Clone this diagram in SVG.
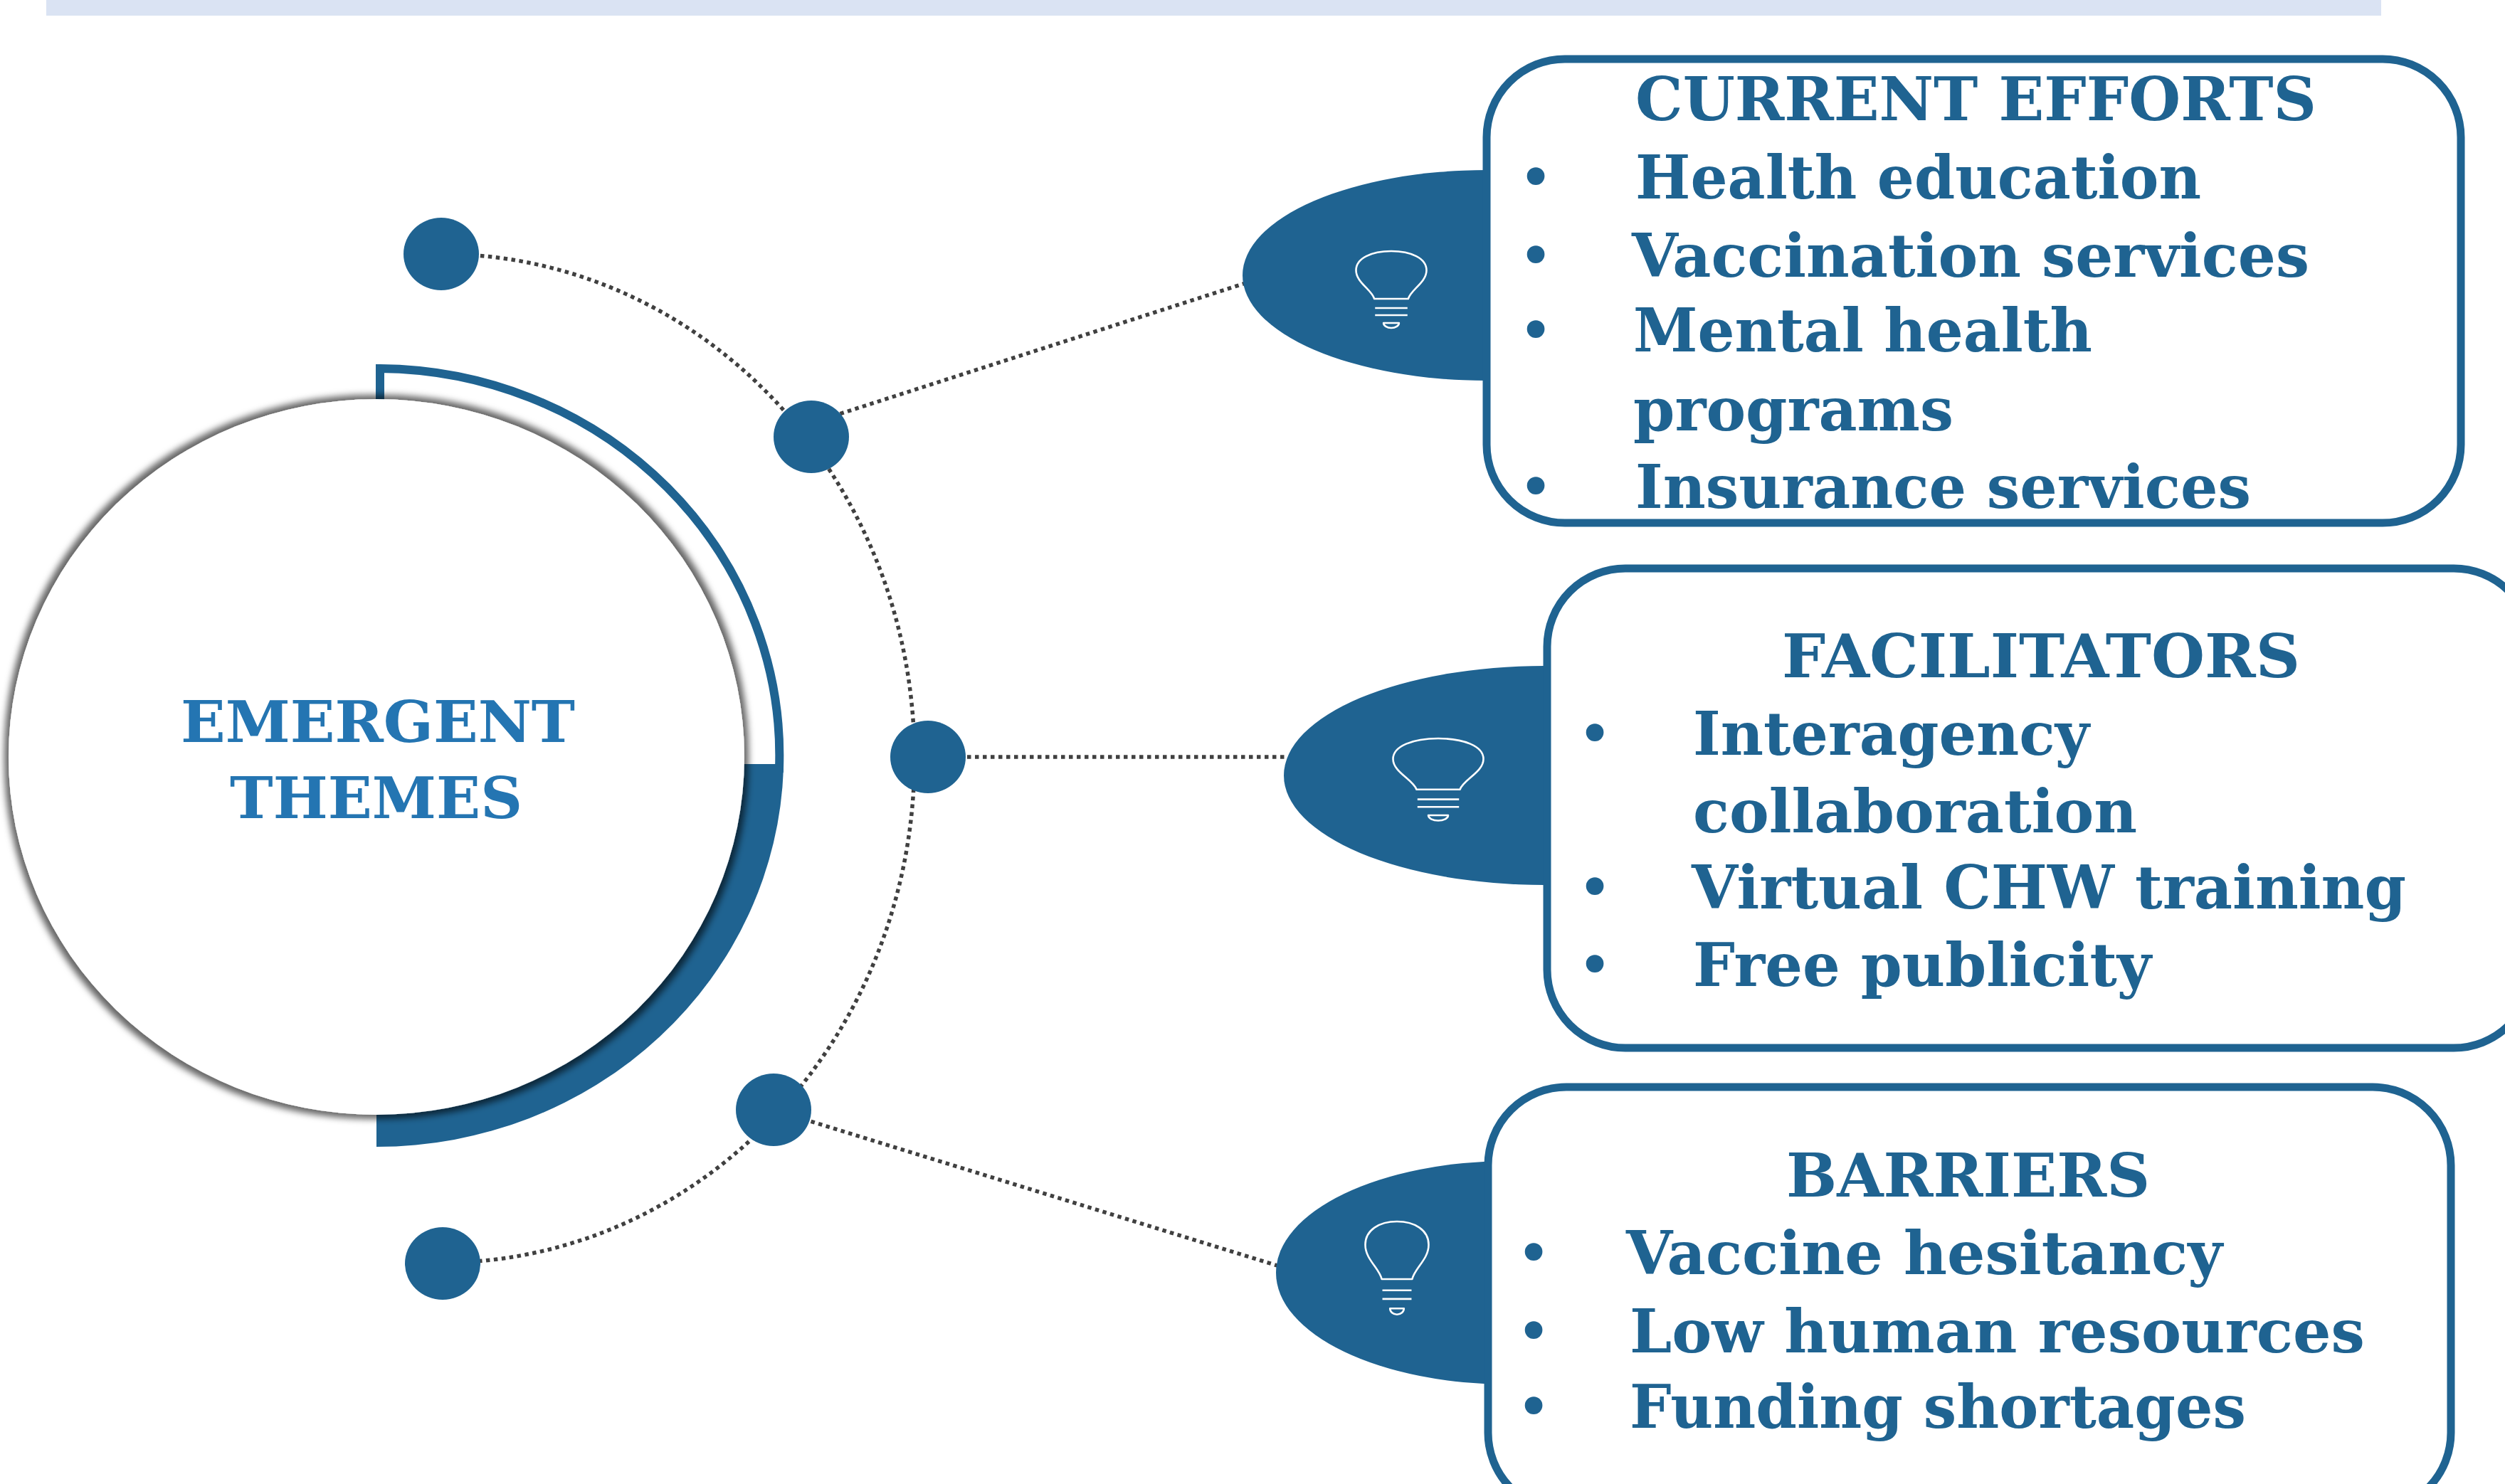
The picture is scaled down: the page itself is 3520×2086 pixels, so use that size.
<svg xmlns="http://www.w3.org/2000/svg" width="3520" height="2086" viewBox="0 0 3520 2086">
<style>
.t{font-family:"DejaVu Serif","Liberation Serif",serif;font-weight:bold;font-size:85px;fill:#1F6391;}
.c{font-family:"DejaVu Serif","Liberation Serif",serif;font-weight:bold;font-size:81px;fill:#2475B2;}
.b{font-family:"DejaVu Sans","Liberation Sans",sans-serif;font-size:85px;fill:#1F6391;text-anchor:middle;}
.dot{fill:#1F6391;}
.blob{fill:#1F6391;}
.box{fill:#FFFFFF;stroke:#1F6391;stroke-width:11;}
.con{fill:none;stroke:#404040;stroke-width:5.5;stroke-dasharray:5.5 5.5;}
.bulb{fill:none;stroke:#FFFFFF;stroke-width:2.6;vector-effect:non-scaling-stroke;stroke-linejoin:round;}
</style>
<defs>
<filter id="glow" x="-5%" y="-5%" width="110%" height="110%">
<feMorphology in="SourceAlpha" operator="dilate" radius="6" result="d"/>
<feGaussianBlur in="d" stdDeviation="5" result="bl"/>
<feFlood flood-color="#000000" flood-opacity="0.6"/>
<feComposite in2="bl" operator="in" result="s"/>
<feMerge><feMergeNode in="s"/><feMergeNode in="SourceGraphic"/></feMerge>
</filter>
<g id="bulbshape">
<path class="bulb" d="M -24 67 L 24 67 C 28 54 50 44 50 27 C 50 10 28 0 0 0 C -28 0 -50 10 -50 27 C -50 44 -28 54 -24 67 Z"/>
<path class="bulb" d="M -23 80 H 23 M -23 90 H 23"/>
<path class="bulb" d="M -11 101 H 11 A 11 7 0 0 1 -11 101 Z"/>
</g>
</defs>
<rect x="0" y="0" width="3520" height="2086" fill="#FFFFFF"/>
<rect x="65" y="0" width="3281" height="22" fill="#DAE3F3"/>

<g id="connectors">
<path class="con" d="M 620 357 A 665 709 0 0 1 620 1775"/>
<path class="con" d="M 1170 585 L 1750 398"/>
<path class="con" d="M 1304 1064 L 1810 1064"/>
<path class="con" d="M 1087 1560 L 1798 1780"/>
</g>

<g id="dots">
<ellipse class="dot" cx="620" cy="357" rx="53" ry="51"/>
<ellipse class="dot" cx="1140" cy="614" rx="53" ry="51"/>
<ellipse class="dot" cx="1304" cy="1064" rx="53" ry="51"/>
<ellipse class="dot" cx="1087" cy="1560" rx="53" ry="51"/>
<ellipse class="dot" cx="622" cy="1776" rx="53" ry="51"/>
</g>

<g id="emergent-themes">
<path d="M 529 1080 L 1101 1080 A 572 550 0 0 1 529 1612 Z" fill="#1F6391"/>
<path d="M 534 562 L 534 518 A 566 544 0 0 1 1095 1080 L 1040 1080" fill="#FFFFFF" stroke="#1F6391" stroke-width="12"/>
<ellipse cx="529" cy="1064" rx="517" ry="503" fill="#FFFFFF" filter="url(#glow)"/>
<text class="c" x="254" y="1043" textLength="554" lengthAdjust="spacingAndGlyphs">EMERGENT</text>
<text class="c" x="323" y="1150" textLength="411" lengthAdjust="spacingAndGlyphs">THEMES</text>
</g>

<g id="current-efforts">
<ellipse class="blob" cx="2090" cy="387" rx="344" ry="148"/>
<use href="#bulbshape" transform="translate(1955,353) scale(0.99,1)"/>
<rect class="box" x="2089" y="83" width="1369" height="652" rx="110" ry="110"/>
<text class="t" x="2298" y="169" textLength="957" lengthAdjust="spacingAndGlyphs">CURRENT EFFORTS</text>
<text class="b" x="2158" y="279">•</text>
<text class="t" x="2298" y="279" textLength="795" lengthAdjust="spacingAndGlyphs">Health education</text>
<text class="b" x="2158" y="389">•</text>
<text class="t" x="2293" y="389" textLength="952" lengthAdjust="spacingAndGlyphs">Vaccination services</text>
<text class="b" x="2158" y="494">•</text>
<text class="t" x="2295" y="494" textLength="645" lengthAdjust="spacingAndGlyphs">Mental health</text>
<text class="t" x="2295" y="605" textLength="450" lengthAdjust="spacingAndGlyphs">programs</text>
<text class="b" x="2158" y="714">•</text>
<text class="t" x="2298" y="714" textLength="865" lengthAdjust="spacingAndGlyphs">Insurance services</text>
</g>

<g id="facilitators">
<ellipse class="blob" cx="2170" cy="1090" rx="366" ry="154"/>
<use href="#bulbshape" transform="translate(2021,1038) scale(1.27,1.07)"/>
<rect class="box" x="2174" y="799" width="1384" height="674" rx="110" ry="110"/>
<text class="t" x="2504" y="952" textLength="728" lengthAdjust="spacingAndGlyphs">FACILITATORS</text>
<text class="b" x="2241" y="1061">•</text>
<text class="t" x="2379" y="1061" textLength="557" lengthAdjust="spacingAndGlyphs">Interagency</text>
<text class="t" x="2379" y="1170" textLength="624" lengthAdjust="spacingAndGlyphs">collaboration</text>
<text class="b" x="2241" y="1277">•</text>
<text class="t" x="2377" y="1277" textLength="1004" lengthAdjust="spacingAndGlyphs">Virtual CHW training</text>
<text class="b" x="2241" y="1386">•</text>
<text class="t" x="2379" y="1386" textLength="644" lengthAdjust="spacingAndGlyphs">Free publicity</text>
</g>

<g id="barriers">
<ellipse class="blob" cx="2120" cy="1789" rx="327" ry="157"/>
<use href="#bulbshape" transform="translate(1963,1717) scale(0.89,1.21)"/>
<rect class="box" x="2091" y="1528" width="1353" height="596" rx="110" ry="110"/>
<text class="t" x="2510" y="1682" textLength="511" lengthAdjust="spacingAndGlyphs">BARRIERS</text>
<text class="b" x="2155" y="1791">•</text>
<text class="t" x="2285" y="1791" textLength="838" lengthAdjust="spacingAndGlyphs">Vaccine hesitancy</text>
<text class="b" x="2155" y="1901">•</text>
<text class="t" x="2290" y="1901" textLength="1033" lengthAdjust="spacingAndGlyphs">Low human resources</text>
<text class="b" x="2155" y="2007">•</text>
<text class="t" x="2290" y="2007" textLength="866" lengthAdjust="spacingAndGlyphs">Funding shortages</text>
</g>
</svg>
